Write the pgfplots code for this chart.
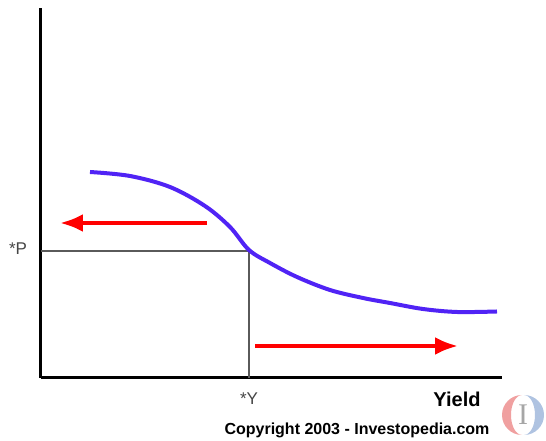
\documentclass[border=0pt]{standalone}
\usepackage{pgfplots}
\pgfplotsset{compat=1.18}
\usepackage{fontspec}
\setmainfont{Liberation Sans}
\newfontfamily\seriffont{Liberation Serif}
\usetikzlibrary{arrows.meta}
\definecolor{curveblue}{RGB}{80,35,245}
\definecolor{refgray}{RGB}{90,90,90}
\definecolor{labgray}{RGB}{70,70,70}
\definecolor{logored}{RGB}{240,160,160}
\definecolor{logoblue}{RGB}{175,195,225}
\begin{document}
\begin{tikzpicture}
\begin{axis}[
  scale only axis,
  width=461bp, height=370bp,
  xmin=41, xmax=502, ymin=63, ymax=433,
  axis lines*=left,
  axis line style={line width=3bp, black},
  xtick=\empty, ytick=\empty,
  clip=false,
]
\path (axis cs:0,0) rectangle (axis cs:546,441);
% reference lines
\addplot[refgray, line width=1.5bp] coordinates {(41,190) (249,190) (249,63)};
% curve
\addplot[curveblue, line width=4bp, smooth, tension=0.55] coordinates {
(90,269) (130,265) (170,254) (205,235) (230,214) (249,191)
(270,178) (297,164) (330,151) (363,143) (390,138) (423,132) (457,129) (497,129.5)};
% arrows
\addplot[red, line width=4bp, -{Latex[length=23bp,width=18bp]}] coordinates {(207,218) (60,218)};
\addplot[red, line width=4bp, -{Latex[length=23bp,width=18bp]}] coordinates {(255,95) (458,95)};
% labels
\node[text=labgray, font=\fontsize{17bp}{19bp}\selectfont] at (axis cs:18,192) {*P};
\node[text=labgray, font=\fontsize{17bp}{19bp}\selectfont] at (axis cs:249,42) {*Y};
\node[font=\fontsize{20bp}{22bp}\selectfont\bfseries] at (axis cs:457,42) {Yield};
\node[font=\fontsize{16bp}{18bp}\selectfont\bfseries] at (axis cs:357,11) {Copyright 2003 - Investopedia.com};
% logo
\fill[logored] (axis cs:522,46) arc[start angle=90,end angle=270,x radius=20bp,y radius=20bp]
   arc[start angle=270,end angle=90,x radius=11bp,y radius=20bp] -- cycle;
\fill[logoblue] (axis cs:524,46) arc[start angle=90,end angle=-90,x radius=20bp,y radius=20bp]
   arc[start angle=-90,end angle=90,x radius=11bp,y radius=20bp] -- cycle;
\node[text=gray!70, font=\fontsize{30bp}{30bp}\selectfont\seriffont] at (axis cs:523,26) {I};
\end{axis}
\end{tikzpicture}
\end{document}
